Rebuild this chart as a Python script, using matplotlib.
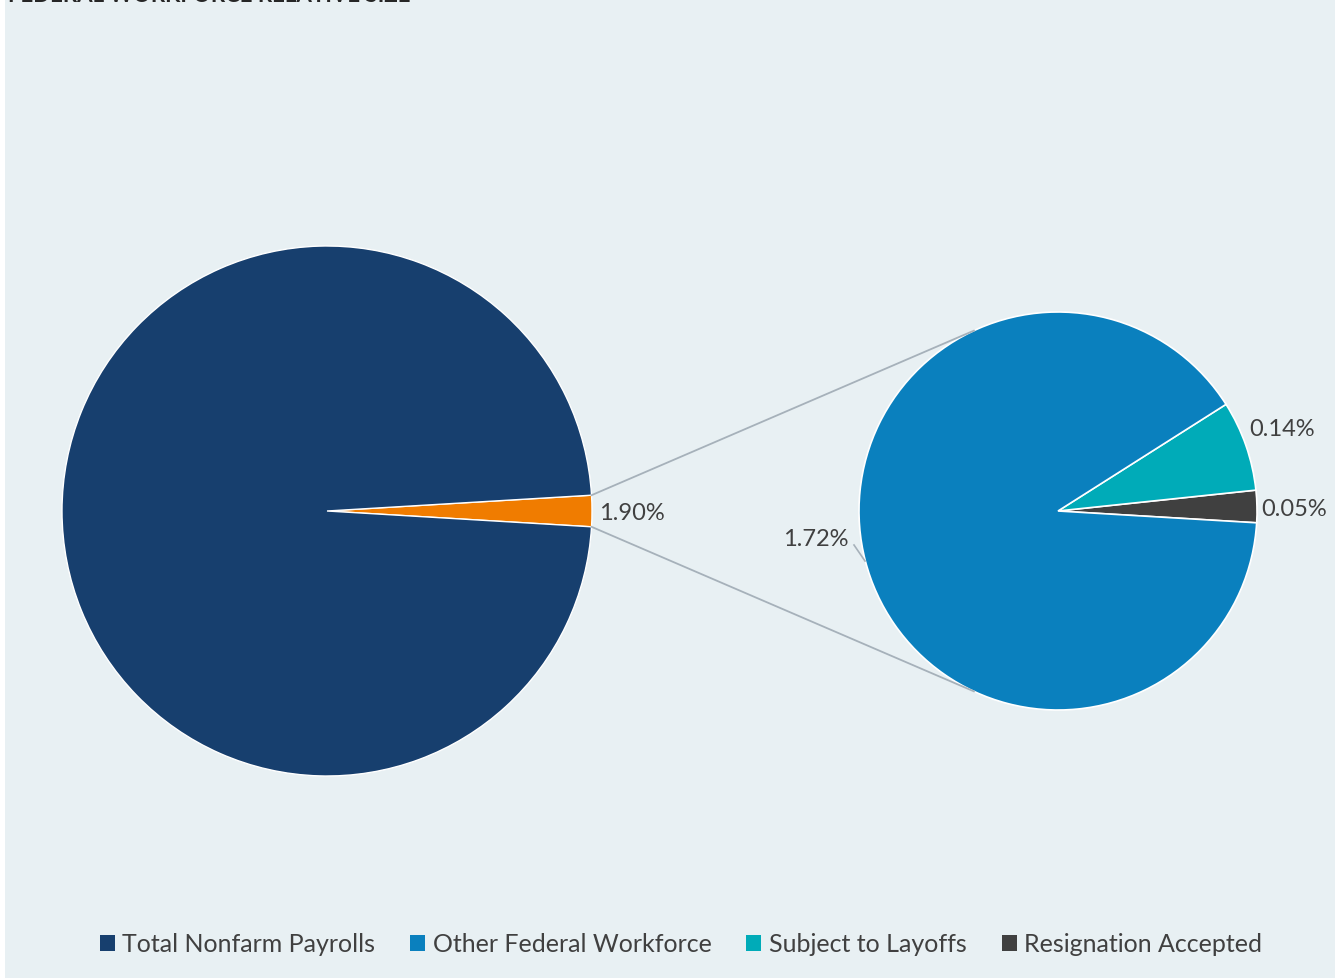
import numpy as np
import matplotlib.pyplot as plt
from matplotlib.patches import Rectangle
from matplotlib.lines import Line2D

plt.rcParams['font.family'] = ['Lato', 'DejaVu Sans']

# main pie
main_labels = ["Federal Workforce", "Total Nonfarm Payrolls"]
main_values = [1.90, 98.10]
main_colors = ["#F07C00", "#173F6E"]

# breakdown of the federal slice
sub_labels = ["Resignation Accepted", "Subject to Layoffs", "Other Federal Workforce"]
sub_values = [0.05, 0.14, 1.72]
sub_colors = ["#404040", "#00ABB8", "#0A80BE"]

legend_labels = ["Total Nonfarm Payrolls", "Other Federal Workforce", "Subject to Layoffs", "Resignation Accepted"]
legend_colors = ["#173F6E", "#0A80BE", "#00ABB8", "#404040"]

W, H = 1335, 979
bg = "#E8F0F3"
txt = "#404040"

fig = plt.figure(figsize=(W / 100, H / 100), dpi=100, facecolor="white")
ax = fig.add_axes([0, 0, 1, 1])
ax.add_patch(Rectangle((5, 0), W - 5, H, facecolor=bg, edgecolor="none", zorder=0))

# left pie
c1, r1 = (327, H - 512), 265
ang1 = main_values[0] / sum(main_values) * 360
ax.pie(main_values, colors=main_colors, startangle=-ang1 / 2, center=c1, radius=r1,
       frame=True, wedgeprops=dict(edgecolor="white", linewidth=1))

# right pie
c2, r2 = (1058, H - 512), 199
ax.pie(sub_values, colors=sub_colors, startangle=-3.4, center=c2, radius=r2,
       frame=True, wedgeprops=dict(edgecolor="white", linewidth=1.2))

# connector lines from the small slice to the second pie
for s in (1, -1):
    a = np.deg2rad(s * ang1 / 2)
    x0 = c1[0] + r1 * np.cos(a)
    y0 = c1[1] + r1 * np.sin(a)
    b = np.deg2rad(s * 115)
    x1 = c2[0] + r2 * np.cos(b)
    y1 = c2[1] + r2 * np.sin(b)
    ax.add_line(Line2D([x0, x1], [y0, y1], color="#A6B1BA", lw=1.3, zorder=1))

# data labels
fs = 17
ax.text(599, H - 513, f"{main_values[0]:.2f}%", fontsize=fs, color=txt, va="center", ha="left")
ax.text(1249, H - 429, f"{sub_values[1]:.2f}%", fontsize=fs, color=txt, va="center", ha="left")
ax.text(1261, H - 509, f"{sub_values[0]:.2f}%", fontsize=fs, color=txt, va="center", ha="left")
ax.text(849, H - 539, f"{sub_values[2]:.2f}%", fontsize=fs, color=txt, va="center", ha="right")
ax.add_line(Line2D([854, 865], [H - 546, H - 562], color="#A6B1BA", lw=1.2))

# title (cut off at top of the image, as in the source)
ax.text(8, H + 5, "FEDERAL WORKFORCE RELATIVE SIZE", fontsize=16, fontweight="bold",
        color="#262626", va="center", ha="left")

ax.set_xlim(0, W)
ax.set_ylim(0, H)
ax.set_aspect("equal")
ax.axis("off")

handles = [Rectangle((0, 0), 1, 1, facecolor=c) for c in legend_colors]
fig.legend(handles, legend_labels, loc="center", bbox_to_anchor=(0.51, 1 - 945 / H), ncol=4,
           frameon=False, fontsize=18, labelcolor=txt, handlelength=0.6, handleheight=0.6,
           handletextpad=0.3, columnspacing=1.4)

fig.savefig("out.png", dpi=100, facecolor="white")
